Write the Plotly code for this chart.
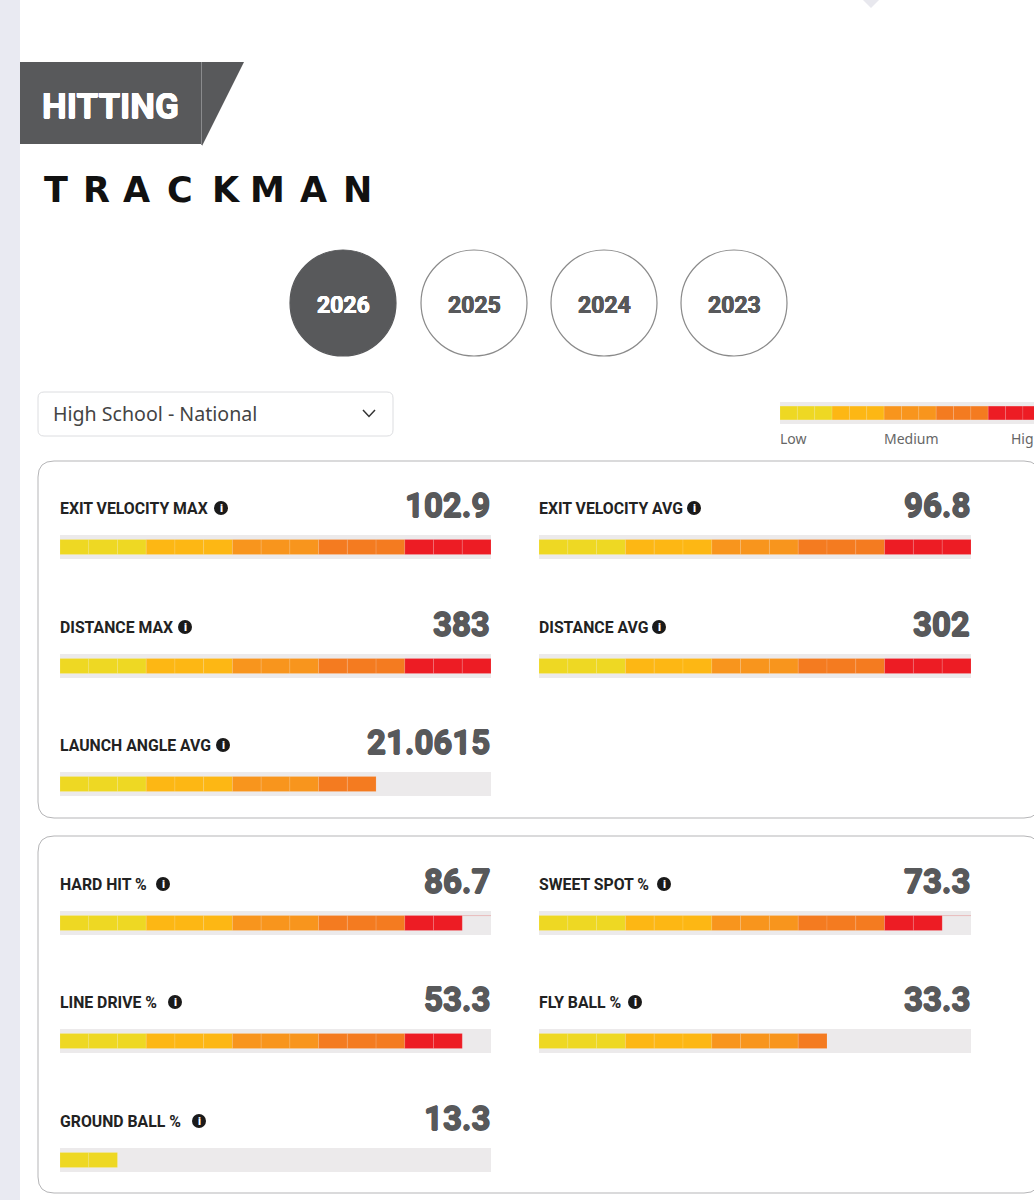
import plotly.graph_objects as go

PAGE_W = 1034
PAGE_H = 1200

# data
METRICS = ["EXIT VELOCITY MAX", "EXIT VELOCITY AVG", "DISTANCE MAX", "DISTANCE AVG", "LAUNCH ANGLE AVG",
           "HARD HIT %", "SWEET SPOT %", "LINE DRIVE %", "FLY BALL %", "GROUND BALL %"]
VALUE_TEXT = ["102.9", "96.8", "383", "302", "21.0615", "86.7", "73.3", "53.3", "33.3", "13.3"]
FILLED_SEGMENTS = [15, 15, 15, 15, 11, 14, 14, 14, 10, 2]
YEARS = ["2026", "2025", "2024", "2023"]
SCALE_LABELS = ["Low", "Medium", "High"]
LOGO_LETTERS = list("TRACKMAN")

# layout, in page pixels
LABEL_COLUMN = [0, 1, 0, 1, 0, 0, 1, 0, 1, 0]
LABEL_ROW_Y = [508, 508, 627, 627, 745, 884, 884, 1002, 1002, 1121]
ICON_X = [221, 694, 185, 659, 223, 163, 664, 175, 635, 199]
COLUMN_LEFT = [60, 539]
COLUMN_RIGHT = [491, 971]
YEAR_X = [343, 474, 604, 734]
LOGO_X = [56, 96, 136, 180, 226, 267, 313, 357]
SCALE_X = [779, 883, 1010]
HAIRLINE_METRICS = ["HARD HIT %", "SWEET SPOT %"]

SEGMENT_COLORS = ["#eed823"] * 3 + ["#fdb714"] * 3 + ["#f8951d"] * 3 + ["#f47b20"] * 3 + ["#ed1c24"] * 3
GRAY = "#58595b"
TRACK = "#eceaeb"


def px_x(x):
    return x / PAGE_W


def px_y(y):
    return 1 - y / PAGE_H


def rounded_rect(x0, y0, x1, y1, r):
    return (f"M {px_x(x0 + r)} {px_y(y0)} L {px_x(x1 - r)} {px_y(y0)} "
            f"Q {px_x(x1)} {px_y(y0)} {px_x(x1)} {px_y(y0 + r)} L {px_x(x1)} {px_y(y1 - r)} "
            f"Q {px_x(x1)} {px_y(y1)} {px_x(x1 - r)} {px_y(y1)} L {px_x(x0 + r)} {px_y(y1)} "
            f"Q {px_x(x0)} {px_y(y1)} {px_x(x0)} {px_y(y1 - r)} L {px_x(x0)} {px_y(y0 + r)} "
            f"Q {px_x(x0)} {px_y(y0)} {px_x(x0 + r)} {px_y(y0)} Z")


def polygon(points):
    return "M " + " L ".join(f"{px_x(x)} {px_y(y)}" for x, y in points) + " Z"


def page_text(text, x, y, size, color, family="Roboto", weight=400, anchor="left", shadow=None):
    font = dict(family=family, size=size, color=color, weight=weight)
    if shadow:
        font["shadow"] = shadow
    return dict(text=text, x=px_x(x), y=px_y(y), xref="paper", yref="paper", xanchor=anchor,
                yanchor="middle", showarrow=False, font=font, borderpad=0)


def heavy(color, w=0.6):
    # Roboto stops at bold here, a tight text shadow gets the heavier look
    return f"{w}px 0 0 {color}, -{w}px 0 0 {color}, 0 {w}px 0 {color}, 0 -{w}px 0 {color}"


fig = go.Figure()
layout_axes = {}


def add_meter(index, left, right, top, bottom, filled, x_max=15):
    # one small axis pair per meter, segments are unit bars on a 0-15 scale
    suffix = "" if index == 0 else str(index + 1)
    layout_axes["xaxis" + suffix] = dict(domain=[px_x(left), px_x(right)], range=[0, x_max], visible=False,
                                         fixedrange=True, anchor="y" + suffix)
    layout_axes["yaxis" + suffix] = dict(domain=[px_y(bottom), px_y(top)], range=[-0.5, 0.5], visible=False,
                                         fixedrange=True, anchor="x" + suffix)
    xa, ya = "x" + suffix, "y" + suffix
    fig.add_trace(go.Bar(x=[15], y=[0], base=[0], width=[1], orientation="h", xaxis=xa, yaxis=ya,
                         marker=dict(color=TRACK, line_width=0), hoverinfo="skip"))
    fig.add_trace(go.Bar(x=[1] * filled, y=[0] * filled, base=list(range(filled)), width=0.625,
                         orientation="h", xaxis=xa, yaxis=ya,
                         marker=dict(color=SEGMENT_COLORS[:filled],
                                     line=dict(color="rgba(255,255,255,0.2)", width=0.6))))


shapes = [
    dict(type="rect", xref="paper", yref="paper", x0=0, x1=px_x(20), y0=0, y1=1,
         fillcolor="#e9eaf2", line_width=0, layer="below"),
    dict(type="path", xref="paper", yref="paper", path=polygon([(863, 0), (879, 0), (871, 8)]),
         fillcolor="#e8e8ee", line_width=0),
    # banner
    dict(type="path", xref="paper", yref="paper",
         path=polygon([(20, 62), (244, 62), (202, 146), (202, 144), (20, 144)]),
         fillcolor=GRAY, line_width=0),
    dict(type="line", xref="paper", yref="paper", x0=px_x(201.5), x1=px_x(201.5), y0=px_y(62), y1=px_y(145),
         line=dict(color="#8a8b8d", width=1)),
    # dropdown
    dict(type="path", xref="paper", yref="paper", path=rounded_rect(38, 392, 393, 436, 6),
         fillcolor="white", line=dict(color="#dcdde0", width=1)),
    dict(type="path", xref="paper", yref="paper",
         path=f"M {px_x(363)} {px_y(410)} L {px_x(369)} {px_y(416.5)} L {px_x(375)} {px_y(410)}",
         line=dict(color="#333333", width=1.5)),
    # panels
    dict(type="path", xref="paper", yref="paper", path=rounded_rect(38, 461, 1040, 818, 16),
         line=dict(color="#b5b5b7", width=1)),
    dict(type="path", xref="paper", yref="paper", path=rounded_rect(38, 836, 1040, 1193, 16),
         line=dict(color="#b5b5b7", width=1)),
]

annotations = [
    page_text("HITTING", 41, 106, 35, "white", "Roboto", 700, shadow=heavy("white", 0.5)),
    page_text("High School - National", 52, 413, 19.6, "#444444", "Noto Sans"),
]

for letter, x in zip(LOGO_LETTERS, LOGO_X):
    annotations.append(page_text(letter, x, 190, 35, "#111111", "DejaVu Sans", 700, "center"))

for i, (year, x) in enumerate(zip(YEARS, YEAR_X)):
    active = i == 0
    text_color = "white" if active else GRAY
    shapes.append(dict(type="circle", xref="paper", yref="paper", x0=px_x(x - 53), x1=px_x(x + 53),
                       y0=px_y(356), y1=px_y(250), fillcolor=GRAY if active else "white",
                       line=dict(color=GRAY if active else "#8a8a8a", width=1.2)))
    annotations.append(page_text(year, x, 305, 23, text_color, "Roboto", 700, "center", shadow=heavy(text_color, 0.4)))

for i, name in enumerate(METRICS):
    col = LABEL_COLUMN[i]
    row_y = LABEL_ROW_Y[i]
    add_meter(i, COLUMN_LEFT[col], COLUMN_RIGHT[col], row_y + 27, row_y + 51, FILLED_SEGMENTS[i])
    annotations.append(page_text(name, COLUMN_LEFT[col] - 1, row_y, 15.8, "#222222", "Roboto", 700))
    annotations.append(page_text(VALUE_TEXT[i], COLUMN_RIGHT[col], row_y - 3, 33, GRAY, "Roboto", 700, "right",
                                 shadow=heavy(GRAY, 0.7)))
    shapes.append(dict(type="circle", xref="paper", yref="paper", x0=px_x(ICON_X[i] - 7), x1=px_x(ICON_X[i] + 7),
                       y0=px_y(row_y + 7), y1=px_y(row_y - 7), fillcolor="#1a1a1a", line_width=0))
    annotations.append(page_text("i", ICON_X[i], row_y, 11, "white", "Roboto", 900, "center"))
    if name in HAIRLINE_METRICS:
        # faint line left along the top of the empty part of the track
        suffix = str(i + 1)
        shapes.append(dict(type="line", xref="x" + suffix, yref="y" + suffix, x0=FILLED_SEGMENTS[i], x1=15,
                           y0=0.31, y1=0.31, line=dict(color="#e6a9a9", width=0.7)))

# colour scale top right, runs off the page
add_meter(len(METRICS), 780, PAGE_W, 402, 424, 15, x_max=(PAGE_W - 780) / 17.35)
for label, x in zip(SCALE_LABELS, SCALE_X):
    annotations.append(page_text(label, x, 438, 14, "#666666", "Noto Sans"))

fig.update_layout(
    width=PAGE_W,
    height=PAGE_H,
    margin=dict(l=0, r=0, t=0, b=0),
    paper_bgcolor="white",
    plot_bgcolor="rgba(0,0,0,0)",
    showlegend=False,
    barmode="overlay",
    shapes=shapes,
    annotations=annotations,
    **layout_axes,
)

# the page's default body margin would push everything 8px in
fig.write_html("out.html", config={"displayModeBar": False},
               post_script="document.body.style.margin='0';")
